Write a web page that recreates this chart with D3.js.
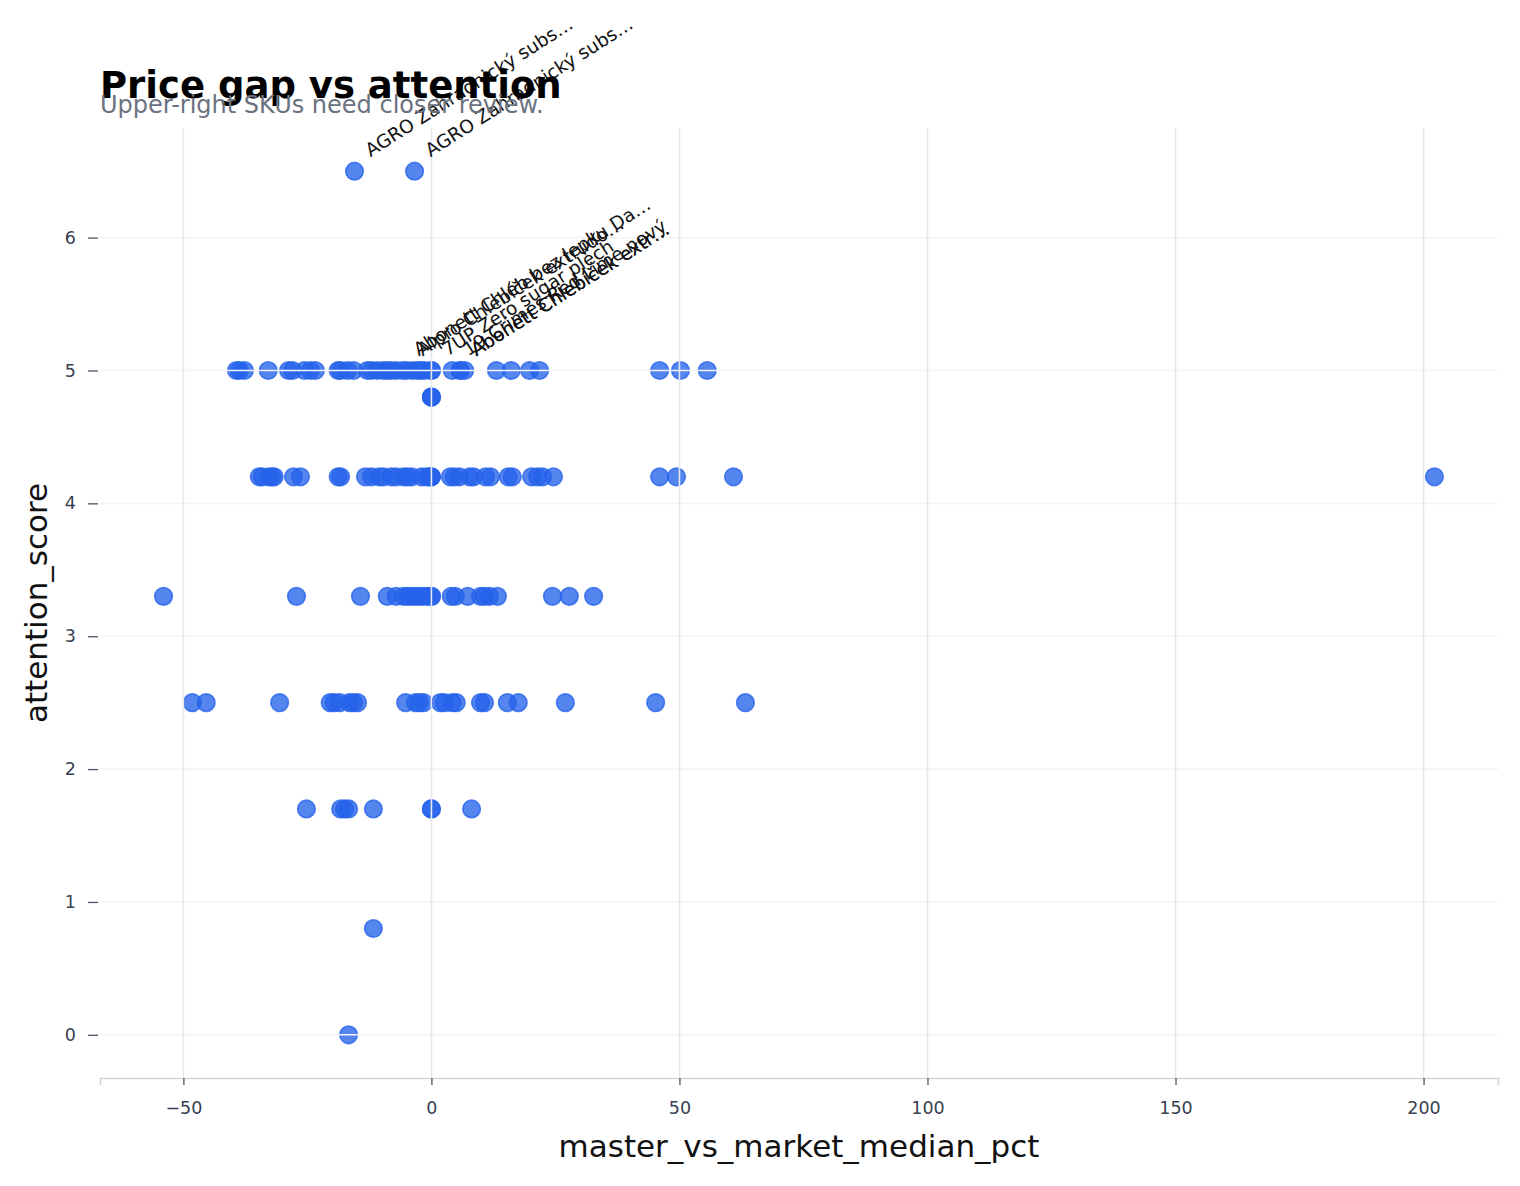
<!DOCTYPE html>
<html>
<head>
<meta charset="utf-8">
<script src="https://cdn.jsdelivr.net/npm/d3@7"></script>
<style>
  html, body { margin: 0; padding: 0; background: #ffffff; }
  svg { display: block; font-family: "DejaVu Sans", sans-serif; }
</style>
</head>
<body>
<svg id="chart" width="1520" height="1186"></svg>
<script>
// ---- data ----
const titleText = "Price gap vs attention";
const subtitleText = "Upper-right SKUs need closer review.";
const xLabel = "master_vs_market_median_pct";
const yLabel = "attention_score";

const xTicks = [-50, 0, 50, 100, 150, 200];
const yTicks = [0, 1, 2, 3, 4, 5, 6];

// master_vs_market_median_pct values, one array per attention_score level
const gapsScore65 = [-15.5, -3.4];
const gapsScore50 = [-39.3, -38.7, -37.7, -32.9, -28.8, -28.0, -25.6, -24.4, -23.4, -18.8, -18.3, -16.9,
  -15.7, -12.9, -12.1, -10.9, -9.7, -8.9, -8.1, -7.1, -5.8, -5.0, -3.8, -2.8, -2.2, -1.4, 0, 0,
  4.2, 5.8, 5.8, 6.7, 13.1, 16.1, 19.8, 21.8, 46.0, 50.2, 55.6];
const gapsScore48 = [0, 0, 0];
const gapsScore42 = [-34.7, -34.1, -32.7, -32.1, -31.7, -27.8, -26.4, -18.8, -18.3, -13.3, -12.1, -10.5,
  -9.7, -8.1, -7.1, -5.6, -4.8, -4.0, -2.0, -1.0, -0.4, 0, 0, 3.8, 4.6, 5.6, 7.7, 8.5, 10.9, 11.9,
  15.5, 16.3, 20.2, 21.4, 22.4, 24.6, 46.0, 49.4, 60.9, 202.2];
const gapsScore33 = [-54.0, -27.2, -14.3, -8.9, -7.1, -5.6, -4.8, -4.0, -3.2, -2.4, -1.6, -0.8, 0, 0,
  4.0, 4.8, 7.3, 9.9, 10.7, 11.7, 13.3, 24.4, 27.8, 32.7];
const gapsScore25 = [-48.2, -45.4, -30.6, -20.4, -19.6, -18.5, -16.5, -15.7, -14.9, -5.2, -3.2, -2.4,
  -1.6, 1.8, 2.6, 4.2, 5.0, 9.9, 10.7, 15.3, 17.5, 27.0, 45.2, 63.3];
const gapsScore17 = [-25.2, -18.3, -17.5, -16.7, -11.7, 0, 0, 8.1];
const gapsScore08 = [-11.7];
const gapsScore00 = [-16.7];

const scoreLevels = [6.5, 5.0, 4.8, 4.2, 3.3, 2.5, 1.7, 0.8, 0.0];
const gapsByLevel = [gapsScore65, gapsScore50, gapsScore48, gapsScore42, gapsScore33,
  gapsScore25, gapsScore17, gapsScore08, gapsScore00];

// annotated SKUs
const labelGaps = [-15.5, -3.4, -5.8, -5.0, 0, 4.2, 5.8, 5.8];
const labelScores = [6.5, 6.5, 5.0, 5.0, 5.0, 5.0, 5.0, 5.0];
const labelNames = ["AGRO Zahradnický subs…", "AGRO Zahradnický subs…",
  "Abonett Chléb bez lepku Da…", "Alpro Chlebíček extrudo…", "7UP Zero sugar plech",
  "19 Crimes Red Lime nový", "Abonett Chlebíček extr…", "Abonett Chlebíček extr…"];

// ---- build ----
const points = [];
scoreLevels.forEach((s, i) => gapsByLevel[i].forEach(g => points.push({ x: g, y: s })));
const labels = labelNames.map((n, i) => ({ x: labelGaps[i], y: labelScores[i], name: n }));

const W = 1520, H = 1186;
const margin = { left: 100, right: 22, top: 128, bottom: 108 };
const svg = d3.select("#chart");

const xExt = d3.extent(points, d => d.x);
const yExt = d3.extent(points, d => d.y);
const xPad = (xExt[1] - xExt[0]) * 0.05;
const yPad = (yExt[1] - yExt[0]) * 0.05;

const x = d3.scaleLinear().domain([xExt[0] - xPad, xExt[1] + xPad]).range([margin.left, W - margin.right]);
const y = d3.scaleLinear().domain([yExt[0] - yPad, yExt[1] + yPad]).range([H - margin.bottom, margin.top]);

const plotTop = margin.top, plotBottom = H - margin.bottom;
const plotLeft = margin.left, plotRight = W - margin.right;

// points
svg.append("g").selectAll("circle").data(points).join("circle")
  .attr("cx", d => x(d.x)).attr("cy", d => y(d.y)).attr("r", 8.8)
  .attr("fill", "#2563eb").attr("fill-opacity", 0.78)
  .attr("stroke", "#2563eb").attr("stroke-opacity", 0.78).attr("stroke-width", 1.6);

// grid (drawn above the markers, like the reference)
svg.append("g").selectAll("line").data(yTicks).join("line")
  .attr("x1", plotLeft).attr("x2", plotRight)
  .attr("y1", d => y(d)).attr("y2", d => y(d))
  .attr("stroke", "#f3f4f6").attr("stroke-width", 1.6);
svg.append("g").selectAll("line").data(xTicks).join("line")
  .attr("x1", d => x(d)).attr("x2", d => x(d))
  .attr("y1", plotTop).attr("y2", plotBottom)
  .attr("stroke", "#e5e7eb").attr("stroke-width", 1.6);

// axes
const xAxis = d3.axisBottom(x).tickValues(xTicks).tickSize(7).tickPadding(17);
const gx = svg.append("g").attr("transform", `translate(0,${plotBottom})`).call(xAxis);
gx.select(".domain").attr("stroke", "#d1d5db").attr("stroke-width", 1.6);
gx.selectAll(".tick line").attr("stroke", "#4b5563").attr("stroke-width", 1.3);
gx.selectAll(".tick text").attr("fill", "#374151").attr("font-size", 17.5)
  .attr("font-family", "DejaVu Sans");

const yAxis = d3.axisLeft(y).tickValues(yTicks).tickSize(10).tickPadding(12);
const gy = svg.append("g").attr("transform", `translate(${plotLeft - 2},0)`).call(yAxis);
gy.select(".domain").remove();
gy.selectAll(".tick line").attr("stroke", "#4b5563").attr("stroke-width", 1.3);
gy.selectAll(".tick text").attr("fill", "#374151").attr("font-size", 17.5)
  .attr("font-family", "DejaVu Sans");

// axis labels
svg.append("text").attr("x", (plotLeft + plotRight) / 2).attr("y", 1157)
  .attr("text-anchor", "middle").attr("font-size", 31).attr("fill", "#111")
  .text(xLabel);
svg.append("text").attr("transform", `translate(47,${(plotTop + plotBottom) / 2}) rotate(-90)`)
  .attr("text-anchor", "middle").attr("font-size", 31).attr("fill", "#111")
  .text(yLabel);

// annotations
svg.append("g").selectAll("text").data(labels).join("text")
  .attr("transform", d => `translate(${x(d.x) + 16},${y(d.y) - 14}) rotate(-32.5)`)
  .attr("font-size", 18.5).attr("fill", "#111")
  .text(d => d.name);

// title & subtitle
svg.append("text").attr("x", 100).attr("y", 98).attr("font-size", 37)
  .attr("font-weight", "bold").attr("fill", "#000").text(titleText);
svg.append("text").attr("x", 100).attr("y", 113).attr("font-size", 24)
  .attr("fill", "#6b7280").text(subtitleText);
</script>
</body>
</html>
